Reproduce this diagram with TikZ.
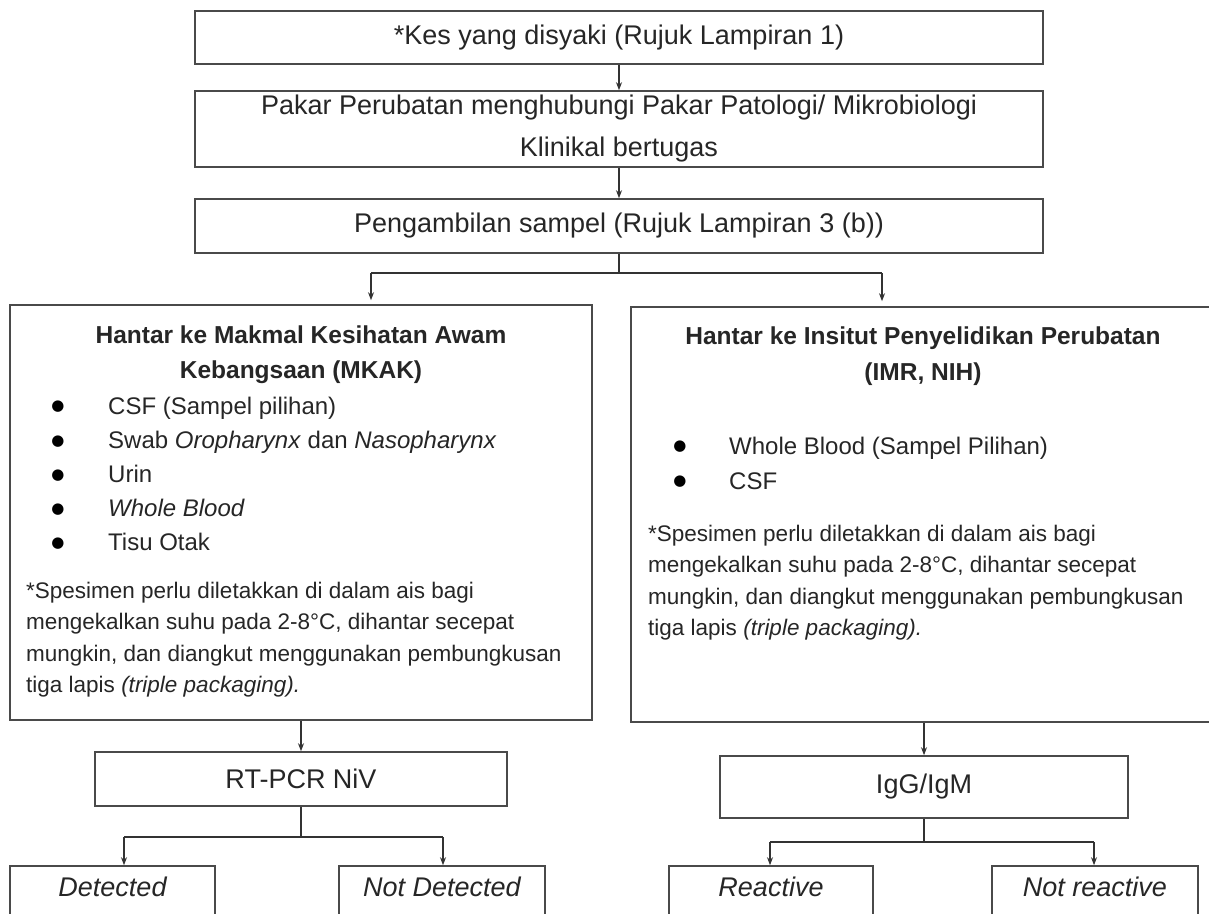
\documentclass[tikz,border=0pt]{standalone}
\usepackage{fontspec}
\setmainfont{Liberation Sans}
\newfontfamily\dejavu{DejaVu Sans}
\usetikzlibrary{arrows.meta}
\definecolor{boxline}{HTML}{4A4A4A}
\definecolor{connline}{HTML}{333333}
\definecolor{txtcol}{HTML}{262626}
\newcommand{\fntBig}{\fontsize{27}{42}\selectfont}
\newcommand{\fntTitle}{\fontsize{24.5}{35.5}\selectfont\bfseries}
\newcommand{\fntItem}{\fontsize{24}{34}\selectfont}
\newcommand{\fntNote}{\fontsize{22.5}{31.5}\selectfont}
\newcommand{\fntBul}{\dejavu\fontsize{15}{18}\selectfont}
\begin{document}
\begin{tikzpicture}[x=1pt,y=-1pt,
  box/.style={draw=boxline, line width=1.6pt, inner sep=0pt, text=txtcol},
  conn/.style={draw=connline, line width=1.2pt},
  arr/.style={conn, -{Stealth[length=8pt,width=6pt]}},
  txt/.style={inner sep=0pt, text=txtcol},
  itm/.style={txt, font=\fntItem, anchor=west, text height=18pt, text depth=4pt},
  bul/.style={txt, font=\fntBul, text=black},
  res/.style={txt, font=\fntBig\itshape},
]
\useasboundingbox (0,0) rectangle (1209,913);
\clip (0,0) rectangle (1209,913);
\fill[white] (0,0) rectangle (1209,913);

% top chain
\node[box, minimum width=848pt, minimum height=53pt, font=\fntBig] (kes) at (619,37.5) {*Kes yang disyaki (Rujuk Lampiran 1)};
\node[box, minimum width=848pt, minimum height=76pt, font=\fntBig, align=center] (pakar) at (619,129) {Pakar Perubatan menghubungi Pakar Patologi/ Mikrobiologi\\Klinikal bertugas};
\node[box, minimum width=848pt, minimum height=54pt, font=\fntBig] (samp) at (619,226) {Pengambilan sampel (Rujuk Lampiran 3 (b))};

\draw[arr] (kes) -- (pakar);
\draw[arr] (pakar) -- (samp);

% two lab boxes
\node[box, minimum width=582pt, minimum height=415pt] (mkak) at (301,512.5) {};
\node[box, minimum width=584pt, minimum height=415pt] (imr) at (923,514.5) {};

\coordinate (bj) at (619,273);
\coordinate (bl) at (371,273);
\coordinate (br) at (882,273);
\draw[conn] (samp) -- (bj);
\draw[conn] (bl) -- (br);
\draw[arr, shorten >=4pt] (bl) -- (bl |- mkak.north);
\draw[arr, shorten >=5pt] (br) -- (br |- imr.north);

% left box content
\node[txt, font=\fntTitle, align=center] (mkakt) at (301,354.5) {Hantar ke Makmal Kesihatan Awam\\Kebangsaan (MKAK)};
\node[bul] (mb1) at (58,407) {●};
\node[itm] (mi1) at (108,407) {CSF (Sampel pilihan)};
\node[bul] (mb2) at (58,441.2) {●};
\node[itm] (mi2) at (108,441.2) {Swab \textit{Oropharynx} dan \textit{Nasopharynx}};
\node[bul] (mb3) at (58,475.4) {●};
\node[itm] (mi3) at (108,475.4) {Urin};
\node[bul] (mb4) at (58,509.6) {●};
\node[itm] (mi4) at (108,509.6) {\textit{Whole Blood}};
\node[bul] (mb5) at (58,543.8) {●};
\node[itm] (mi5) at (108,543.8) {Tisu Otak};
\node[txt, font=\fntNote, align=left, anchor=west] (mkakn) at (26,639.5) {*Spesimen perlu diletakkan di dalam ais bagi\\mengekalkan suhu pada 2-8°C, dihantar secepat\\mungkin, dan diangkut menggunakan pembungkusan\\tiga lapis \textit{(triple packaging).}};

% right box content
\node[txt, font=\fntTitle, align=center] (imrt) at (923,356) {Hantar ke Insitut Penyelidikan Perubatan\\(IMR, NIH)};
\node[bul] (rb1) at (680,447) {●};
\node[itm] (ri1) at (729,447) {Whole Blood (Sampel Pilihan)};
\node[bul] (rb2) at (680,482) {●};
\node[itm] (ri2) at (729,482) {CSF};
\node[txt, font=\fntNote, align=left, anchor=west] (imrn) at (648,582.5) {*Spesimen perlu diletakkan di dalam ais bagi\\mengekalkan suhu pada 2-8°C, dihantar secepat\\mungkin, dan diangkut menggunakan pembungkusan\\tiga lapis \textit{(triple packaging).}};

% left test branch
\node[box, minimum width=412pt, minimum height=54pt, font=\fntBig] (rt) at (301,779) {RT-PCR NiV};
\draw[arr] (mkak) -- (rt);
\coordinate (rj) at (301,837);
\coordinate (rl) at (124,837);
\coordinate (rr) at (443,837);
\draw[conn] (rt) -- (rj);
\draw[conn] (rl) -- (rr);
\node[box, minimum width=205pt, minimum height=64pt] (det) at (112.5,898) {};
\node[box, minimum width=206pt, minimum height=64pt] (ndet) at (442,898) {};
\node[res] (dett) at (112.5,887) {Detected};
\node[res] (ndett) at (442,887) {Not Detected};
\draw[arr] (rl) -- (rl |- det.north);
\draw[arr] (rr) -- (rr |- ndet.north);

% right test branch
\node[box, minimum width=408pt, minimum height=62pt, font=\fntBig] (igg) at (924,787) {IgG/IgM};
\draw[arr] (igg.north |- imr.south) -- (igg.north);
\coordinate (ij) at (924,842);
\coordinate (il) at (770,842);
\coordinate (ir) at (1094,842);
\draw[conn] (igg) -- (ij);
\draw[conn] (il) -- (ir);
\node[box, minimum width=204pt, minimum height=64pt] (rea) at (771,898) {};
\node[box, minimum width=206pt, minimum height=64pt] (nrea) at (1095,898) {};
\node[res] (reat) at (771,887) {Reactive};
\node[res] (nreat) at (1095,887) {Not reactive};
\draw[arr] (il) -- (il |- rea.north);
\draw[arr] (ir) -- (ir |- nrea.north);
\end{tikzpicture}
\end{document}
